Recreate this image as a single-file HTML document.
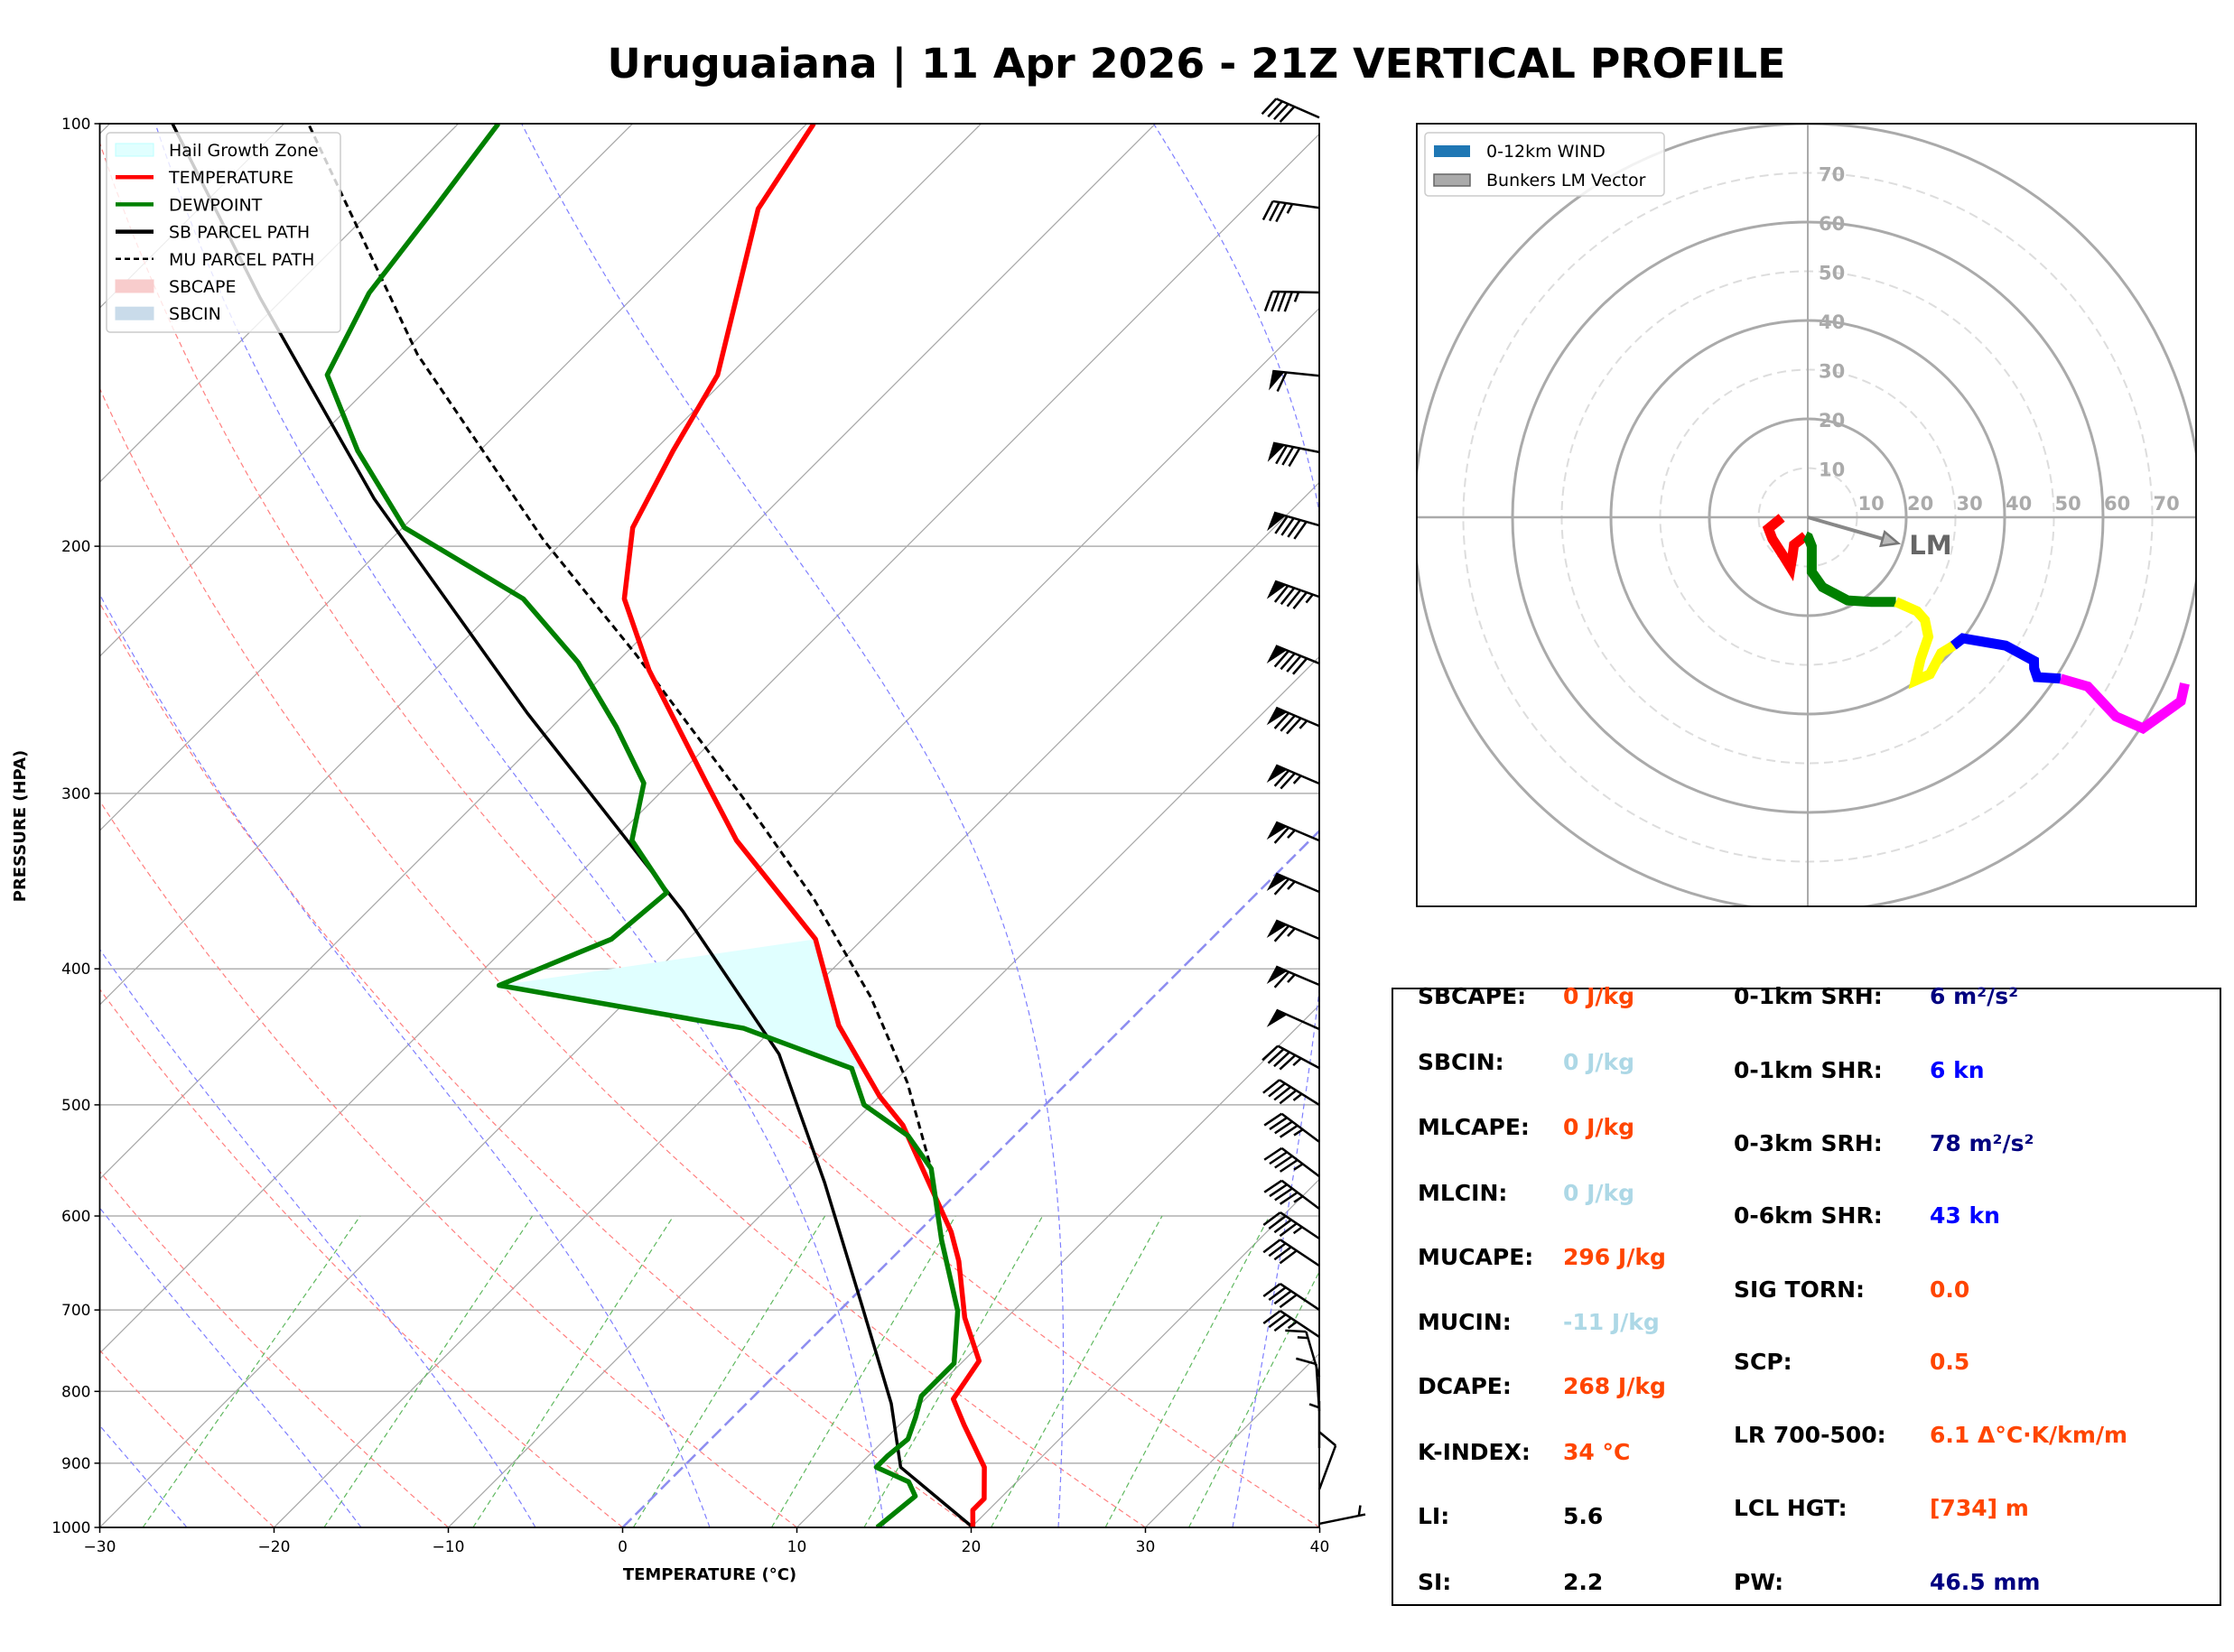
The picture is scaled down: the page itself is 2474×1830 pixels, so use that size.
<!DOCTYPE html>
<html><head><meta charset="utf-8">
<style>
html,body{margin:0;padding:0;background:#fff;}
svg{display:block;}
text{font-family:"DejaVu Sans","Liberation Sans",sans-serif;}
</style></head>
<body>
<svg id="fig" xmlns="http://www.w3.org/2000/svg" width="2474" height="1830" viewBox="0 0 2474 1830">
<rect x="0" y="0" width="2474" height="1830" fill="#fff"/>
<text x="1325" y="86" text-anchor="middle" font-size="45" font-weight="bold" textLength="1305" lengthAdjust="spacingAndGlyphs">Uruguaiana | 11 Apr 2026 - 21Z VERTICAL PROFILE</text>
<defs>
<clipPath id="skclip"><rect x="110.5" y="137" width="1350.5" height="1555"/></clipPath>
<clipPath id="hclip"><rect x="1569" y="137" width="863" height="867"/></clipPath>
</defs>
<g id="skew"></g>
<g id="barbs"></g>
<g id="hodo"></g>
<g id="stats"></g>
</svg>
<script>
// ---- Skew-T data ----
var tempP = [1000,972,954,906,845,810,761,709,646,616,517,493,439,381,324,295,245,218,194,171,151,115,100];
var tempT = [20.1,19.1,19.1,17.3,13.7,11.6,10.9,7.6,4.0,1.9,-7.0,-10.0,-16.4,-22.7,-32.9,-37.9,-47.7,-53.2,-56.8,-58.9,-60.7,-67.9,-69.6];
var dewP = [1000,950,928,906,890,865,835,806,764,701,624,555,526,500,471,441,411,381,353,324,295,269,242,218,194,171,151,132,115,100];
var dewT = [14.6,15.0,13.8,11.1,11.1,11.3,10.5,9.6,9.6,6.8,1.8,-2.9,-6.1,-10.4,-13.2,-21.7,-38.2,-34.4,-33.9,-38.9,-41.5,-46.3,-52.2,-59.0,-69.9,-77.0,-83.1,-85.4,-86.5,-87.7];
var sbP = [1000,906,816,698,568,460,364,263,185,133,100];
var sbT = [20.1,12.5,8.3,1.2,-8.2,-18.2,-31.9,-52.2,-73.3,-91.4,-106.4];
var muP = [560,482,419,356,302,239,198,146,100];
var muT = [-2.5,-9.2,-16.2,-25.2,-35.0,-49.3,-61.2,-79.1,-98.6];
var hailTop = 381, hailBot = 471, hailDewTop = 411;
var pTicks = [100,200,300,400,500,600,700,800,900,1000];
var tTicks = [-30,-20,-10,0,10,20,30,40];
// ---- wind barbs ----
var barbP = [99,114.8,131.9,151.2,171.4,193.3,217.3,242.4,268.6,295.2,324.1,352.6,380.8,410.7,441.6,470.7,500,531.3,562.2,592.9,622.6,651,699.8,731.6,781,826.1,877.9,939.7,994];
var barbU = [36.6,34.7,45,59.7,78.4,86.5,89.5,83.4,78.2,69.0,59.8,59.8,59.8,59.8,45.6,39.7,38.1,36,36,36,37.4,33.3,33.3,29.1,4.2,0.65,0,-3.5,-4.9];
var barbV = [-16.0,-4.9,-0.9,-6.0,-15.7,-24.7,-31.7,-33.7,-33.3,-29.4,-25.4,-25.4,-25.4,-25.4,-20.4,-21.2,-23.9,-27,-27,-27,-25,-22.2,-22.2,-19.4,-14.4,-9.98,-5,-9.4,-1.0];
// ---- hodograph ----
var redU = [-5.3,-8.0,-7.2,-5.0,-3.5,-3.1,-2.8,-0.5];
var redV = [-0.1,-2.3,-4.4,-7.8,-10.2,-7.8,-5.6,-3.8];
var greenU = [-0.5,0.1,0.8,0.8,0.8,3.0,8.1,12.9,17.9];
var greenV = [-3.8,-4.1,-5.9,-8.7,-11.1,-14.2,-16.9,-17.2,-17.2];
var yellowU = [17.9,22.2,23.8,24.5,22.9,21.9,24.8,27.1,29.6];
var yellowV = [-17.2,-19.1,-20.9,-24.3,-28.9,-33.2,-31.9,-27.6,-26.1];
var blueU = [29.6,31.5,40.2,45.96,46,46.6,51.4];
var blueV = [-26.1,-24.6,-26.1,-29.2,-30.7,-32.5,-32.8];
var magU = [51.4,56.9,62.6,68.1,75.8,76.6];
var magV = [-32.8,-34.4,-40.5,-42.9,-37.4,-33.8];
var lmU = 18.4, lmV = -5.3;
var ringVals = [10,20,30,40,50,60,70,80];

var NS="http://www.w3.org/2000/svg";
function mk(tag, attrs, parent, name, txt){
  var e=document.createElementNS(NS,tag);
  for(var k in attrs) e.setAttribute(k, attrs[k]);
  
  
  if(txt!==undefined) e.textContent=txt;
  parent.appendChild(e); return e;
}
var X0=110.5, K=19.3, Y0=137, Y1=1692, H=1555, XR=1461;
function yP(p){ return Y0 + H*Math.log10(p/100); }
function xT(T,p){ return X0 + (T+30)*K + (Y1 - yP(p)); }
function pts(P,T){ var s=[]; for(var i=0;i<P.length;i++) s.push(xT(T[i],P[i]).toFixed(1)+','+yP(P[i]).toFixed(1)); return s.join(' '); }

var skew=document.getElementById('skew');
var clip=mk('g',{'clip-path':'url(#skclip)'},skew,'plot-area');
pTicks.forEach(function(p){ mk('line',{x1:X0,x2:XR,y1:yP(p),y2:yP(p),stroke:'#b0b0b0','stroke-width':1.5},clip,'pressure-gridline'); });
for(var t=-120;t<=40;t+=10){
  if(t===0) continue;
  mk('line',{x1:xT(t,1000),y1:yP(1000),x2:xT(t,100),y2:yP(100),stroke:'#aaaaaa','stroke-width':1.3},clip,'isotherm');
}
for(var th=-30;th<=40;th+=10){
  var s=[]; for(var p=1000;p>=100;p-=10){ var T=(th+273.15)*Math.pow(p/1000,0.2857)-273.15; s.push(xT(T,p).toFixed(1)+','+yP(p).toFixed(1)); }
  mk('polyline',{points:s.join(' '),fill:'none',stroke:'#ff7f7f','stroke-width':1.2,'stroke-dasharray':'6,4'},clip,'dry-adiabat');
}
function rs(T,p){ var es=6.112*Math.exp(17.67*(T-273.15)/(T-29.65)); return 0.622*es/(p-es); }
for(var t0=-25;t0<=45;t0+=10){
  var T=t0+273.15, s=[];
  for(var p=1000;p>=100;p-=5){
    s.push(xT(T-273.15,p).toFixed(1)+','+yP(p).toFixed(1));
    var r=rs(T,p);
    var d=(287*T+2.5e6*r)/(p*(1005+2.5e6*2.5e6*r*0.622/(287*T*T)));
    T+=d*(-5);
  }
  mk('polyline',{points:s.join(' '),fill:'none',stroke:'#7f7fff','stroke-width':1.2,'stroke-dasharray':'6,4'},clip,'moist-adiabat');
}
[0.0004,0.001,0.002,0.004,0.007,0.01,0.016,0.024,0.032].forEach(function(w){
  function td(p){ var e=w*p/(0.622+w); var l=Math.log(e/6.112); return 243.5*l/(17.67-l); }
  mk('line',{x1:xT(td(1000),1000),y1:yP(1000),x2:xT(td(600),600),y2:yP(600),stroke:'#5fb85f','stroke-width':1.2,'stroke-dasharray':'6,4'},clip,'mixing-ratio-line');
});
mk('line',{x1:xT(0,1000),y1:yP(1000),x2:xT(0,100),y2:yP(100),stroke:'#8c8cf0','stroke-width':2.5,'stroke-dasharray':'14,6'},clip,'freezing-isotherm');
(function(){
  function interp(P,T,p){ for(var i=0;i<P.length-1;i++){ if(P[i]>=p&&P[i+1]<=p){ var f=(Math.log(p)-Math.log(P[i]))/(Math.log(P[i+1])-Math.log(P[i])); return T[i]+f*(T[i+1]-T[i]); } } return T[T.length-1]; }
  var s=[];
  s.push(xT(interp(tempP,tempT,hailTop),hailTop)+','+yP(hailTop));
  for(var i=tempP.length-1;i>=0;i--) if(tempP[i]<hailBot&&tempP[i]>hailTop) s.push(xT(tempT[i],tempP[i])+','+yP(tempP[i]));
  s.push(xT(interp(tempP,tempT,hailBot),hailBot)+','+yP(hailBot));
  for(var j=0;j<dewP.length;j++) if(dewP[j]<=hailBot&&dewP[j]>=hailDewTop) s.push(xT(dewT[j],dewP[j])+','+yP(dewP[j]));
  mk('polygon',{points:s.join(' '),fill:'#e0ffff',stroke:'none'},clip,'hail-growth-zone');
})();
mk('polyline',{points:pts(muP,muT),fill:'none',stroke:'#000','stroke-width':3,'stroke-dasharray':'8,5','stroke-linejoin':'round'},clip,'mu-parcel-path');
mk('polyline',{points:pts(sbP,sbT),fill:'none',stroke:'#000','stroke-width':3.5,'stroke-linejoin':'round'},clip,'sb-parcel-path');
mk('polyline',{points:pts(tempP,tempT),fill:'none',stroke:'#ff0000','stroke-width':5.5,'stroke-linejoin':'round'},clip,'temperature-line');
mk('polyline',{points:pts(dewP,dewT),fill:'none',stroke:'#008000','stroke-width':5.5,'stroke-linejoin':'round'},clip,'dewpoint-line');
mk('rect',{x:X0,y:Y0,width:XR-X0,height:H,fill:'none',stroke:'#000','stroke-width':1.8},skew,'skewt-frame');
pTicks.forEach(function(p){
  mk('line',{x1:X0-6,x2:X0,y1:yP(p),y2:yP(p),stroke:'#000','stroke-width':1.5},skew,'y-tick');
  mk('text',{x:X0-10,y:yP(p)+6,'text-anchor':'end','font-size':17},skew,'y-tick-label',String(p));
});
tTicks.forEach(function(t){
  var x=X0+(t+30)*K;
  mk('line',{x1:x,x2:x,y1:Y1,y2:Y1+6,stroke:'#000','stroke-width':1.5},skew,'x-tick');
  mk('text',{x:x,y:Y1+27,'text-anchor':'middle','font-size':17},skew,'x-tick-label',(t<0?'\u2212':'')+Math.abs(t));
});
mk('text',{x:786,y:1750,'text-anchor':'middle','font-size':18,'font-weight':'bold'},skew,'x-axis-title','TEMPERATURE (°C)');
mk('text',{x:0,y:0,'text-anchor':'middle','font-size':18,'font-weight':'bold',transform:'translate(28,915) rotate(-90)'},skew,'y-axis-title','PRESSURE (HPA)');
(function(){
  var lg=mk('g',{},skew,'skewt-legend');
  mk('rect',{x:118,y:147,width:259,height:221,rx:4,fill:'#fff','fill-opacity':0.8,stroke:'#ccc','stroke-width':1.5},lg,'legend-frame');
  var items=[['Hail Growth Zone','patch','#e0ffff','#bff'],['TEMPERATURE','line','#ff0000'],['DEWPOINT','line','#008000'],['SB PARCEL PATH','line','#000'],['MU PARCEL PATH','dash','#000'],['SBCAPE','patch','#f8cccc','#f8cccc'],['SBCIN','patch','#c9dbea','#c9dbea']];
  items.forEach(function(it,i){
    var y=166+i*30.2;
    var g=mk('g',{},lg,'legend-entry');
    if(it[1]==='patch') mk('rect',{x:128,y:y-7,width:42,height:14,fill:it[2],stroke:it[3],'stroke-width':1},g,'legend-swatch');
    else mk('line',{x1:128,x2:170,y1:y,y2:y,stroke:it[2],'stroke-width':it[1]==='dash'?2.5:4.5,'stroke-dasharray':it[1]==='dash'?'6,4':'none'},g,'legend-swatch');
    mk('text',{x:187,y:y+7,'font-size':19},g,'legend-label',it[0]);
  });
})();

var bg=document.getElementById('barbs');
function drawBarb(ax,ay,u,v){
  var s=Math.sqrt(u*u+v*v), L=52;
  var g=mk('g',{},bg,'wind-barb');
  if(s<0.5){ return; }
  var a=[-u/s, v/s];
  var n=[a[1],-a[0]];
  var ex=ax+a[0]*L, ey=ay+a[1]*L;
  mk('line',{x1:ax,y1:ay,x2:ex,y2:ey,stroke:'#000','stroke-width':2.5},g,'barb-staff');
  var rem=Math.round(s/5)*5, pos=0, bl=L*0.42, sp=L*0.14;
  function P(d){ return [ex-a[0]*d, ey-a[1]*d]; }
  while(rem>=50){
    var p1=P(pos), p2=P(pos+sp*1.8);
    var tip=[p1[0]+n[0]*bl+a[0]*2, p1[1]+n[1]*bl+a[1]*2];
    mk('polygon',{points:p1.join(',')+' '+tip.join(',')+' '+p2.join(','),fill:'#000'},g,'barb-flag');
    pos+=sp*2.1; rem-=50;
  }
  while(rem>=10){
    var q=P(pos);
    mk('line',{x1:q[0],y1:q[1],x2:q[0]+n[0]*bl+a[0]*bl*0.35,y2:q[1]+n[1]*bl+a[1]*bl*0.35,stroke:'#000','stroke-width':2.5},g,'barb-full');
    pos+=sp; rem-=10;
  }
  if(rem>=5){
    if(pos===0) pos=sp;
    var q2=P(pos);
    mk('line',{x1:q2[0],y1:q2[1],x2:q2[0]+n[0]*bl*0.5+a[0]*bl*0.18,y2:q2[1]+n[1]*bl*0.5+a[1]*bl*0.18,stroke:'#000','stroke-width':2.5},g,'barb-half');
  }
}
for(var i=0;i<barbP.length;i++) drawBarb(XR,yP(barbP[i]),barbU[i],barbV[i]);

var hg=document.getElementById('hodo');
var HX=2002, HY=573, HK=5.45;
var hc=mk('g',{'clip-path':'url(#hclip)'},hg,'hodograph-area');
ringVals.forEach(function(r){
  var solid=(r%20===0);
  mk('circle',{cx:HX,cy:HY,r:r*HK,fill:'none',stroke:solid?'#aaaaaa':'#dddddd','stroke-width':solid?3:2,'stroke-dasharray':solid?'none':'10,6'},hc,'hodograph-ring');
});
mk('line',{x1:1569,x2:2432,y1:HY,y2:HY,stroke:'#aaaaaa','stroke-width':2.5},hc,'hodograph-u-axis');
mk('line',{x1:HX,x2:HX,y1:137,y2:1004,stroke:'#aaaaaa','stroke-width':2},hc,'hodograph-v-axis');
[10,20,30,40,50,60,70].forEach(function(r){
  mk('text',{x:HX+r*HK+1,y:HY-8,'font-size':21,'font-weight':'bold',fill:'#aaaaaa'},hc,'hodograph-x-label',String(r));
  mk('text',{x:HX+12,y:HY-r*HK+9,'font-size':21,'font-weight':'bold',fill:'#aaaaaa'},hc,'hodograph-y-label',String(r));
});
function hpts(U,V){ var s=[]; for(var i=0;i<U.length;i++) s.push((HX+U[i]*HK).toFixed(1)+','+(HY-V[i]*HK).toFixed(1)); return s.join(' '); }
[[redU,redV,'#ff0000','hodograph-0-1km'],[greenU,greenV,'#008000','hodograph-1-3km'],[yellowU,yellowV,'#ffff00','hodograph-3-6km'],[blueU,blueV,'#0000ff','hodograph-6-9km'],[magU,magV,'#ff00ff','hodograph-9-12km']].forEach(function(sg){
  mk('polyline',{points:hpts(sg[0],sg[1]),fill:'none',stroke:sg[2],'stroke-width':11,'stroke-linejoin':'miter'},hc,sg[3]);
});
(function(){
  var ex=HX+lmU*HK, ey=HY-lmV*HK, dx=ex-HX, dy=ey-HY, l=Math.sqrt(dx*dx+dy*dy), ux=dx/l, uy=dy/l;
  mk('line',{x1:HX,y1:HY,x2:ex-ux*16,y2:ey-uy*16,stroke:'#888','stroke-width':4},hc,'lm-vector');
  var b=[ex-ux*18,ey-uy*18];
  mk('polygon',{points:ex+','+ey+' '+(b[0]-uy*8)+','+(b[1]+ux*8)+' '+(b[0]+uy*8)+','+(b[1]-ux*8),fill:'#bbb',stroke:'#777','stroke-width':2.5},hc,'lm-arrowhead');
  mk('text',{x:ex+12,y:ey+12,'font-size':29,'font-weight':'bold',fill:'#666'},hc,'lm-label','LM');
})();
mk('rect',{x:1569,y:137,width:863,height:867,fill:'none',stroke:'#000','stroke-width':1.8},hg,'hodograph-frame');
(function(){
  var lg=mk('g',{},hg,'hodograph-legend');
  mk('rect',{x:1578,y:147,width:265,height:70,rx:4,fill:'#fff','fill-opacity':0.85,stroke:'#ccc','stroke-width':1.5},lg,'legend-frame');
  var g1=mk('g',{},lg,'legend-entry');
  mk('rect',{x:1588,y:161,width:40,height:13,fill:'#1f77b4'},g1,'legend-swatch');
  mk('text',{x:1646,y:174,'font-size':19},g1,'legend-label','0-12km WIND');
  var g2=mk('g',{},lg,'legend-entry');
  mk('rect',{x:1588,y:193,width:40,height:13,fill:'#aaa',stroke:'#666','stroke-width':1.5},g2,'legend-swatch');
  mk('text',{x:1646,y:206,'font-size':19},g2,'legend-label','Bunkers LM Vector');
})();

var st=document.getElementById('stats');
mk('rect',{x:1542,y:1095,width:917,height:683,fill:'#fff',stroke:'#000','stroke-width':2},st,'stats-frame');
var leftRows=[['SBCAPE:','0 J/kg','#ff4500'],['SBCIN:','0 J/kg','#add8e6'],['MLCAPE:','0 J/kg','#ff4500'],['MLCIN:','0 J/kg','#add8e6'],['MUCAPE:','296 J/kg','#ff4500'],['MUCIN:','-11 J/kg','#add8e6'],['DCAPE:','268 J/kg','#ff4500'],['K-INDEX:','34 °C','#ff4500'],['LI:','5.6','#000'],['SI:','2.2','#000']];
var leftY=[1103,1176,1248,1321,1392,1464,1535,1608,1679,1752];
var rightRows=[['0-1km SRH:','6 m²/s²','#000080'],['0-1km SHR:','6 kn','#0000ff'],['0-3km SRH:','78 m²/s²','#000080'],['0-6km SHR:','43 kn','#0000ff'],['SIG TORN:','0.0','#ff4500'],['SCP:','0.5','#ff4500'],['LR 700-500:','6.1 Δ°C·K/km/m','#ff4500'],['LCL HGT:','[734] m','#ff4500'],['PW:','46.5 mm','#000080']];
var rightY=[1103,1185,1266,1346,1428,1508,1589,1670,1752];
leftRows.forEach(function(r,i){
  mk('text',{x:1570,y:leftY[i]+9,'font-size':25,'font-weight':'bold'},st,'stat-label',r[0]);
  mk('text',{x:1731,y:leftY[i]+9,'font-size':25,'font-weight':'bold',fill:r[2]},st,'stat-value',r[1]);
});
rightRows.forEach(function(r,i){
  mk('text',{x:1920,y:rightY[i]+9,'font-size':25,'font-weight':'bold'},st,'stat-label',r[0]);
  mk('text',{x:2137,y:rightY[i]+9,'font-size':25,'font-weight':'bold',fill:r[2]},st,'stat-value',r[1]);
});
</script>
</body></html>
